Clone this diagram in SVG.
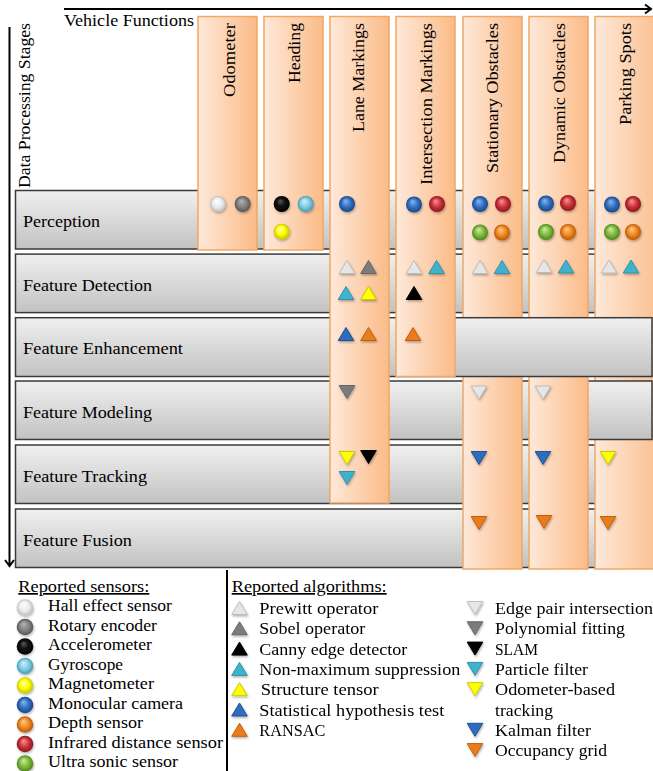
<svg xmlns="http://www.w3.org/2000/svg" width="653" height="771" viewBox="0 0 653 771">
<style>
text{font-family:"Liberation Serif","DejaVu Serif",serif;fill:#000}
.row{fill:url(#rowg);stroke:#3a3a3a;stroke-width:1.5}
.col{fill:url(#colg);stroke:#f2a766;stroke-width:1.5}
.rl{font-size:17.5px}
.hd{font-size:17px}
.lg{font-size:17px}
.ax{stroke:#000;stroke-width:2;fill:none}
.t-wh{fill:#e6e6e6;stroke:#bdbdbd;stroke-width:1}
.t-gr{fill:#7c7c7c;stroke:#666;stroke-width:1}
.t-bk{fill:#000;stroke:#000;stroke-width:1}
.t-tl{fill:#3fb2cd;stroke:#2f93aa;stroke-width:1}
.t-ye{fill:#ffff00;stroke:#c9c900;stroke-width:1}
.t-bl{fill:#2e6cbd;stroke:#22518f;stroke-width:1}
.t-or{fill:#ea7b1e;stroke:#c0600f;stroke-width:1}
.sh{filter:url(#ds)}
</style>
<defs>
<linearGradient id="rowg" x1="0" y1="0" x2="0" y2="1"><stop offset="0" stop-color="#f0f0f0"/><stop offset="1" stop-color="#c2c2c2"/></linearGradient>
<linearGradient id="colg" x1="0" y1="0" x2="1" y2="0"><stop offset="0" stop-color="#fee9da"/><stop offset="1" stop-color="#fbbb87"/></linearGradient>
<filter id="ds" x="-50%" y="-50%" width="200%" height="200%"><feDropShadow dx="0.8" dy="1.5" stdDeviation="1" flood-color="#000" flood-opacity="0.3"/></filter>
<radialGradient id="c-wh" fx="0.4" fy="0.3"><stop offset="0" stop-color="#ffffff"/><stop offset="0.6" stop-color="#ebebeb"/><stop offset="1" stop-color="#bcbcbc"/></radialGradient>
<radialGradient id="c-gr" fx="0.4" fy="0.3"><stop offset="0" stop-color="#b4b4b4"/><stop offset="0.6" stop-color="#808080"/><stop offset="1" stop-color="#555"/></radialGradient>
<radialGradient id="c-bk" fx="0.4" fy="0.3"><stop offset="0" stop-color="#5a5a5a"/><stop offset="0.5" stop-color="#111"/><stop offset="1" stop-color="#000"/></radialGradient>
<radialGradient id="c-lb" fx="0.4" fy="0.3"><stop offset="0" stop-color="#d4f2fa"/><stop offset="0.6" stop-color="#7ecbe2"/><stop offset="1" stop-color="#4699b3"/></radialGradient>
<radialGradient id="c-ye" fx="0.4" fy="0.3"><stop offset="0" stop-color="#ffffc8"/><stop offset="0.55" stop-color="#ffff00"/><stop offset="1" stop-color="#c4c400"/></radialGradient>
<radialGradient id="c-bl" fx="0.4" fy="0.3"><stop offset="0" stop-color="#8db6ea"/><stop offset="0.6" stop-color="#2e6dbf"/><stop offset="1" stop-color="#1b4886"/></radialGradient>
<radialGradient id="c-or" fx="0.4" fy="0.3"><stop offset="0" stop-color="#ffcb94"/><stop offset="0.6" stop-color="#f0861e"/><stop offset="1" stop-color="#b45a0a"/></radialGradient>
<radialGradient id="c-rd" fx="0.4" fy="0.3"><stop offset="0" stop-color="#f29a9a"/><stop offset="0.6" stop-color="#cc2f36"/><stop offset="1" stop-color="#861a20"/></radialGradient>
<radialGradient id="c-gn" fx="0.4" fy="0.3"><stop offset="0" stop-color="#d2eda6"/><stop offset="0.6" stop-color="#7db83c"/><stop offset="1" stop-color="#4c861d"/></radialGradient>
<path id="tu" d="M0,-6.5 L7.8,6.5 L-7.8,6.5 Z" stroke-linejoin="round"/>
<path id="td" d="M0,6.5 L7.8,-6.5 L-7.8,-6.5 Z" stroke-linejoin="round"/>
</defs>

<rect width="653" height="771" fill="#fff"/>

<g id="connectors">
<path class="ax" d="M64,9 H651 M645,4.5 L651,9 L645,13.5"/>
<path class="ax" d="M9.5,27 V566 M5,560 L9.5,566 L14,560"/>
</g>

<text x="64" y="26" class="hd" textLength="130" lengthAdjust="spacingAndGlyphs">Vehicle Functions</text>
<text transform="translate(29.5,23) rotate(-90)" text-anchor="end" class="hd" textLength="165" lengthAdjust="spacingAndGlyphs">Data Processing Stages</text>

<g id="row-perception"><rect class="row" x="15.5" y="190.5" width="636.5" height="58.5"/><text class="rl" x="23" y="227" textLength="77" lengthAdjust="spacingAndGlyphs">Perception</text></g>
<g id="row-detection"><rect class="row" x="15.5" y="254.1" width="636.5" height="58.5"/><text class="rl" x="23" y="290.5" textLength="129" lengthAdjust="spacingAndGlyphs">Feature Detection</text></g>
<g id="row-tracking"><rect class="row" x="15.5" y="445" width="636.5" height="58.5"/><text class="rl" x="23" y="481.5" textLength="124" lengthAdjust="spacingAndGlyphs">Feature Tracking</text></g>
<g id="row-fusion"><rect class="row" x="15.5" y="509" width="636.5" height="58.5"/><text class="rl" x="23" y="545.5" textLength="109" lengthAdjust="spacingAndGlyphs">Feature Fusion</text></g>

<g id="col-parking">
<rect class="col" x="595" y="16.5" width="70" height="552.5"/>
<text transform="translate(631,23) rotate(-90)" text-anchor="end" class="hd" textLength="102" lengthAdjust="spacingAndGlyphs">Parking Spots</text>
<g class="sh">
<circle cx="612" cy="204.5" r="8" fill="url(#c-bl)"/><circle cx="633" cy="204" r="8" fill="url(#c-rd)"/>
<circle cx="612" cy="232" r="8" fill="url(#c-gn)"/><circle cx="633" cy="232" r="8" fill="url(#c-or)"/>
<use href="#tu" x="609" y="266.5" class="t-wh"/><use href="#tu" x="631" y="266.5" class="t-tl"/>
<use href="#td" x="608" y="458" class="t-ye"/>
<use href="#td" x="608" y="523" class="t-or"/>
</g>
</g>

<g id="row-modeling"><rect class="row" x="15.5" y="381" width="636.5" height="58.5"/><text class="rl" x="23" y="417.5" textLength="129" lengthAdjust="spacingAndGlyphs">Feature Modeling</text></g>

<g id="col-stationary">
<rect class="col" x="463" y="16.5" width="59" height="552.5"/>
<text transform="translate(498,23) rotate(-90)" text-anchor="end" class="hd" textLength="150" lengthAdjust="spacingAndGlyphs">Stationary Obstacles</text>
<g class="sh">
<circle cx="480" cy="204" r="8" fill="url(#c-bl)"/><circle cx="503" cy="204" r="8" fill="url(#c-rd)"/>
<circle cx="480" cy="232.5" r="8" fill="url(#c-gn)"/><circle cx="502" cy="232.5" r="8" fill="url(#c-or)"/>
<use href="#tu" x="480" y="267" class="t-wh"/><use href="#tu" x="502" y="267" class="t-tl"/>
<use href="#td" x="479" y="392.5" class="t-wh"/>
<use href="#td" x="479" y="458" class="t-bl"/>
<use href="#td" x="479" y="523" class="t-or"/>
</g>
</g>

<g id="col-dynamic">
<rect class="col" x="529" y="16.5" width="59" height="552.5"/>
<text transform="translate(564.5,23) rotate(-90)" text-anchor="end" class="hd" textLength="140" lengthAdjust="spacingAndGlyphs">Dynamic Obstacles</text>
<g class="sh">
<circle cx="546" cy="203.5" r="8" fill="url(#c-bl)"/><circle cx="568" cy="203" r="8" fill="url(#c-rd)"/>
<circle cx="546" cy="232" r="8" fill="url(#c-gn)"/><circle cx="568" cy="232" r="8" fill="url(#c-or)"/>
<use href="#tu" x="544" y="266" class="t-wh"/><use href="#tu" x="566" y="266.5" class="t-tl"/>
<use href="#td" x="543" y="392.5" class="t-wh"/>
<use href="#td" x="543" y="458" class="t-bl"/>
<use href="#td" x="544" y="522" class="t-or"/>
</g>
</g>

<g id="row-enhancement"><rect class="row" x="15.5" y="317.7" width="636.5" height="58.8"/><text class="rl" x="23" y="354" textLength="160" lengthAdjust="spacingAndGlyphs">Feature Enhancement</text></g>

<g id="col-lane">
<rect class="col" x="330" y="16.5" width="59" height="486.5"/>
<text transform="translate(364,23) rotate(-90)" text-anchor="end" class="hd" textLength="109" lengthAdjust="spacingAndGlyphs">Lane Markings</text>
<g class="sh">
<circle cx="347" cy="204" r="8" fill="url(#c-bl)"/>
<use href="#tu" x="347" y="267" class="t-wh"/><use href="#tu" x="368.5" y="267" class="t-gr"/>
<use href="#tu" x="346" y="293" class="t-tl"/><use href="#tu" x="368.5" y="293" class="t-ye"/>
<use href="#tu" x="346" y="334" class="t-bl"/><use href="#tu" x="368.5" y="334" class="t-or"/>
<use href="#td" x="347" y="392" class="t-gr"/>
<use href="#td" x="347" y="458" class="t-ye"/><use href="#td" x="368.5" y="457" class="t-bk"/>
<use href="#td" x="347" y="478" class="t-tl"/>
</g>
</g>

<g id="col-intersection">
<rect class="col" x="396" y="16.5" width="59" height="360"/>
<text transform="translate(431.5,23) rotate(-90)" text-anchor="end" class="hd" textLength="162" lengthAdjust="spacingAndGlyphs">Intersection Markings</text>
<g class="sh">
<circle cx="414" cy="204.5" r="8" fill="url(#c-bl)"/><circle cx="437" cy="204" r="8" fill="url(#c-rd)"/>
<use href="#tu" x="414" y="267" class="t-wh"/><use href="#tu" x="436.5" y="267" class="t-tl"/>
<use href="#tu" x="414" y="293" class="t-bk"/>
<use href="#tu" x="413" y="334" class="t-or"/>
</g>
</g>

<g id="col-odometer">
<rect class="col" x="198" y="16.5" width="59" height="233.5"/>
<text transform="translate(235,23) rotate(-90)" text-anchor="end" class="hd" textLength="74" lengthAdjust="spacingAndGlyphs">Odometer</text>
<g class="sh"><circle cx="218" cy="204" r="8" fill="url(#c-wh)"/><circle cx="242.7" cy="204" r="8" fill="url(#c-gr)"/></g>
</g>

<g id="col-heading">
<rect class="col" x="264" y="16.5" width="59" height="233.5"/>
<text transform="translate(300,23) rotate(-90)" text-anchor="end" class="hd" textLength="60" lengthAdjust="spacingAndGlyphs">Heading</text>
<g class="sh"><circle cx="281.7" cy="204" r="8" fill="url(#c-bk)"/><circle cx="305.7" cy="204" r="8" fill="url(#c-lb)"/><circle cx="281.7" cy="231.7" r="8" fill="url(#c-ye)"/></g>
</g>

<g id="legend-sensors">
<text class="lg" x="18.3" y="592" text-decoration="underline" textLength="131" lengthAdjust="spacingAndGlyphs">Reported sensors:</text>
<g class="sh">
<circle cx="25" cy="607.5" r="8.3" fill="url(#c-wh)"/>
<circle cx="25" cy="627" r="8.3" fill="url(#c-gr)"/>
<circle cx="25" cy="646.5" r="8.3" fill="url(#c-bk)"/>
<circle cx="25" cy="666" r="8.3" fill="url(#c-lb)"/>
<circle cx="25" cy="685.5" r="8.3" fill="url(#c-ye)"/>
<circle cx="25" cy="705" r="8.3" fill="url(#c-bl)"/>
<circle cx="25" cy="724.5" r="8.3" fill="url(#c-or)"/>
<circle cx="25" cy="744" r="8.3" fill="url(#c-rd)"/>
<circle cx="25" cy="763.5" r="8.3" fill="url(#c-gn)"/>
</g>
<text class="lg" x="48" y="611" textLength="124" lengthAdjust="spacingAndGlyphs">Hall effect sensor</text>
<text class="lg" x="48" y="630.5" textLength="109" lengthAdjust="spacingAndGlyphs">Rotary encoder</text>
<text class="lg" x="48" y="650" textLength="104" lengthAdjust="spacingAndGlyphs">Accelerometer</text>
<text class="lg" x="48" y="669.5" textLength="75" lengthAdjust="spacingAndGlyphs">Gyroscope</text>
<text class="lg" x="48" y="689" textLength="106" lengthAdjust="spacingAndGlyphs">Magnetometer</text>
<text class="lg" x="48" y="708.5" textLength="135" lengthAdjust="spacingAndGlyphs">Monocular camera</text>
<text class="lg" x="48" y="728" textLength="95" lengthAdjust="spacingAndGlyphs">Depth sensor</text>
<text class="lg" x="48" y="747.5" textLength="175" lengthAdjust="spacingAndGlyphs">Infrared distance sensor</text>
<text class="lg" x="48" y="767" textLength="130" lengthAdjust="spacingAndGlyphs">Ultra sonic sensor</text>
</g>

<line x1="227" y1="570" x2="227" y2="771" stroke="#000" stroke-width="2"/>

<g id="legend-algorithms">
<text class="lg" x="231.7" y="592" text-decoration="underline" textLength="155" lengthAdjust="spacingAndGlyphs">Reported algorithms:</text>
<g class="sh">
<use href="#tu" x="239.5" y="608" class="t-wh"/>
<use href="#tu" x="239.5" y="628.3" class="t-gr"/>
<use href="#tu" x="239.5" y="648.6" class="t-bk"/>
<use href="#tu" x="239.5" y="668.9" class="t-tl"/>
<use href="#tu" x="239.5" y="689.2" class="t-ye"/>
<use href="#tu" x="239.5" y="709.5" class="t-bl"/>
<use href="#tu" x="239.5" y="729.8" class="t-or"/>
<use href="#td" x="475" y="608" class="t-wh"/>
<use href="#td" x="475" y="628.3" class="t-gr"/>
<use href="#td" x="475" y="648.6" class="t-bk"/>
<use href="#td" x="475" y="668.9" class="t-tl"/>
<use href="#td" x="475" y="689.2" class="t-ye"/>
<use href="#td" x="475" y="729.8" class="t-bl"/>
<use href="#td" x="475" y="750.1" class="t-or"/>
</g>
<text class="lg" x="259.3" y="614" textLength="119" lengthAdjust="spacingAndGlyphs">Prewitt operator</text>
<text class="lg" x="259.3" y="634.3" textLength="106" lengthAdjust="spacingAndGlyphs">Sobel operator</text>
<text class="lg" x="259.3" y="654.6" textLength="148" lengthAdjust="spacingAndGlyphs">Canny edge detector</text>
<text class="lg" x="259.3" y="674.9" textLength="201" lengthAdjust="spacingAndGlyphs">Non-maximum suppression</text>
<text class="lg" x="260.7" y="695.2" textLength="118" lengthAdjust="spacingAndGlyphs">Structure tensor</text>
<text class="lg" x="259.3" y="715.5" textLength="185" lengthAdjust="spacingAndGlyphs">Statistical hypothesis test</text>
<text class="lg" x="259.3" y="735.8" textLength="66" lengthAdjust="spacingAndGlyphs">RANSAC</text>
<text class="lg" x="495" y="614" textLength="158" lengthAdjust="spacingAndGlyphs">Edge pair intersection</text>
<text class="lg" x="495" y="634.3" textLength="130" lengthAdjust="spacingAndGlyphs">Polynomial fitting</text>
<text class="lg" x="495" y="654.6" textLength="43" lengthAdjust="spacingAndGlyphs">SLAM</text>
<text class="lg" x="495" y="674.9" textLength="93" lengthAdjust="spacingAndGlyphs">Particle filter</text>
<text class="lg" x="495" y="695.2" textLength="120" lengthAdjust="spacingAndGlyphs">Odometer-based</text>
<text class="lg" x="495" y="715.5" textLength="58" lengthAdjust="spacingAndGlyphs">tracking</text>
<text class="lg" x="495" y="735.8" textLength="96" lengthAdjust="spacingAndGlyphs">Kalman filter</text>
<text class="lg" x="495" y="756.1" textLength="112" lengthAdjust="spacingAndGlyphs">Occupancy grid</text>
</g>
</svg>
